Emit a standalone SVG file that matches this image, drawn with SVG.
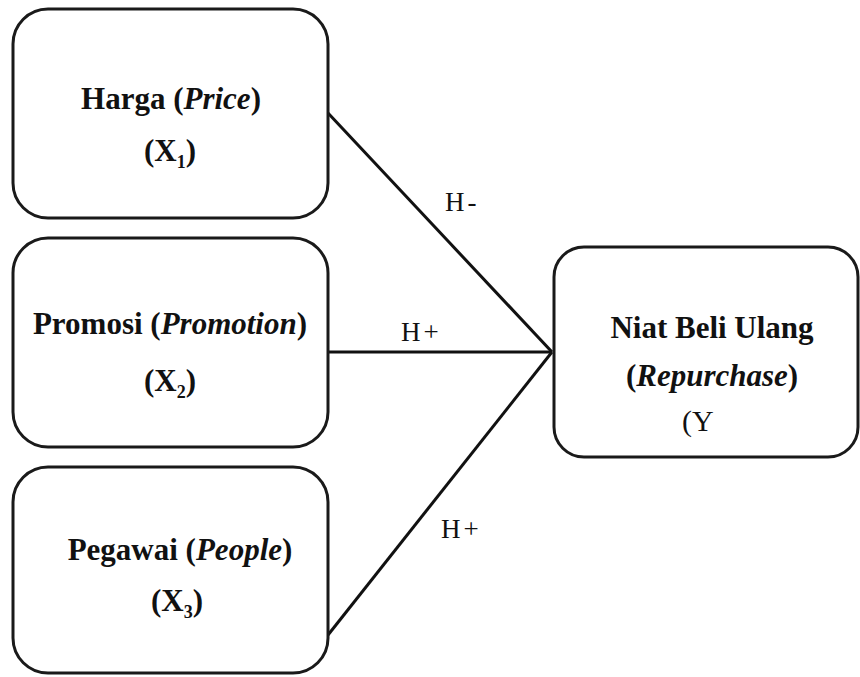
<svg xmlns="http://www.w3.org/2000/svg" width="860" height="677" viewBox="0 0 860 677">
<style>
.box{fill:#fff;stroke:#1a1a1a;stroke-width:3}
.lbl{font-family:"Liberation Serif","Times New Roman",serif;font-weight:bold;font-size:31px;fill:#111;text-anchor:middle}
.it{font-style:italic}
.sub{font-size:18px}
.h{font-family:"Liberation Serif","Times New Roman",serif;font-size:27px;fill:#111;letter-spacing:3px}
.ln{stroke:#111;stroke-width:3;fill:none}
</style>
<rect width="860" height="677" fill="#fff"/>
<g id="connectors">
<line class="ln" x1="328" y1="113" x2="552" y2="352"/>
<line class="ln" x1="328" y1="352" x2="552" y2="352"/>
<line class="ln" x1="328" y1="635" x2="552" y2="352"/>
<text class="h" x="445" y="211">H-</text>
<text class="h" x="401" y="341">H+</text>
<text class="h" x="441" y="538">H+</text>
</g>
<g id="harga">
<rect class="box" x="13" y="9" width="315" height="209" rx="35"/>
<text class="lbl" x="171" y="109">Harga (<tspan class="it">Price</tspan>)</text>
<text class="lbl" x="170" y="161">(X<tspan class="sub" dy="7">1</tspan><tspan dy="-7">)</tspan></text>
</g>
<g id="promosi">
<rect class="box" x="13" y="238" width="315" height="209" rx="35"/>
<text class="lbl" x="170" y="334">Promosi (<tspan class="it">Promotion</tspan>)</text>
<text class="lbl" x="170" y="391">(X<tspan class="sub" dy="7">2</tspan><tspan dy="-7">)</tspan></text>
</g>
<g id="pegawai">
<rect class="box" x="13" y="467" width="315" height="206" rx="35"/>
<text class="lbl" x="180" y="560">Pegawai (<tspan class="it">People</tspan>)</text>
<text class="lbl" x="177" y="611">(X<tspan class="sub" dy="7">3</tspan><tspan dy="-7">)</tspan></text>
</g>
<g id="niat">
<rect class="box" x="554" y="247" width="304" height="210" rx="30"/>
<text class="lbl" x="712" y="338">Niat Beli Ulang</text>
<text class="lbl" x="712" y="386">(<tspan class="it">Repurchase</tspan>)</text>
<text class="h" x="682" y="431" style="letter-spacing:0;font-size:30px">(Y</text>
</g>
</svg>
